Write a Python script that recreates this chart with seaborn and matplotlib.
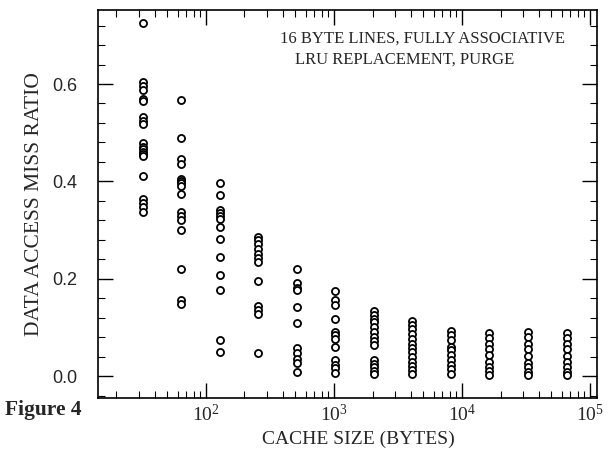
import numpy as np
import pandas as pd
import seaborn as sns
import matplotlib.pyplot as plt
from matplotlib.ticker import FixedLocator, LogLocator, NullFormatter

# cache sizes (bytes) and miss ratios
sizes = [32, 64, 128, 256, 512, 1024, 2048, 4096, 8192, 16384, 32768, 65536]
miss_32 = [0.726, 0.605, 0.596, 0.588, 0.570, 0.565, 0.532, 0.525, 0.518,
           0.478, 0.471, 0.466, 0.461, 0.456, 0.453, 0.412, 0.363, 0.356, 0.348, 0.338]
miss_64 = [0.567, 0.490, 0.446, 0.436, 0.406, 0.401, 0.396, 0.391, 0.375,
           0.338, 0.329, 0.320, 0.300, 0.221, 0.156, 0.149]
miss_128 = [0.397, 0.373, 0.342, 0.336, 0.329, 0.322, 0.306, 0.281, 0.245,
            0.208, 0.177, 0.075, 0.050]
miss_256 = [0.286, 0.279, 0.271, 0.262, 0.252, 0.242, 0.235, 0.196, 0.144,
            0.136, 0.127, 0.047]
miss_512 = [0.221, 0.192, 0.182, 0.177, 0.142, 0.110, 0.057, 0.047, 0.036,
            0.027, 0.009]
miss_1k = [0.175, 0.156, 0.146, 0.118, 0.091, 0.084, 0.077, 0.060, 0.033,
           0.023, 0.016, 0.007]
miss_2k = [0.134, 0.125, 0.118, 0.112, 0.101, 0.091, 0.081, 0.073, 0.064,
           0.033, 0.026, 0.019, 0.011, 0.004]
miss_4k = [0.114, 0.105, 0.096, 0.086, 0.077, 0.067, 0.059, 0.050, 0.040,
           0.029, 0.021, 0.012, 0.004]
miss_8k = [0.092, 0.084, 0.075, 0.060, 0.053, 0.043, 0.033, 0.023, 0.014, 0.005]
miss_16k = [0.089, 0.079, 0.066, 0.055, 0.043, 0.029, 0.019, 0.011, 0.003]
miss_32k = [0.091, 0.081, 0.067, 0.055, 0.041, 0.027, 0.018, 0.009, 0.003]
miss_64k = [0.089, 0.079, 0.066, 0.055, 0.041, 0.029, 0.018, 0.009, 0.003]

all_miss = [miss_32, miss_64, miss_128, miss_256, miss_512, miss_1k,
            miss_2k, miss_4k, miss_8k, miss_16k, miss_32k, miss_64k]
df = pd.DataFrame({
    "size": np.repeat(sizes, [len(m) for m in all_miss]),
    "miss": np.concatenate(all_miss),
})

sns.set_style("ticks")
plt.rcParams["font.family"] = ["Liberation Serif", "DejaVu Serif"]

fig = plt.figure(figsize=(6.08, 4.54), dpi=100)
ax = fig.add_axes([0.161, 0.123, 0.821, 0.855])

sns.scatterplot(data=df, x="size", y="miss", ax=ax, marker="o", s=26,
                facecolor="white", edgecolor="black", linewidth=1.3)

ax.set_xscale("log")
ax.set_xlim(10 ** 1.156, 10 ** 5.055)
ax.set_ylim(-0.045, 0.752)

ax.set_xticks([1e2, 1e3, 1e4, 1e5])
ax.xaxis.set_minor_locator(LogLocator(base=10, subs=np.arange(2, 10)))
ax.xaxis.set_minor_formatter(NullFormatter())
ax.set_yticks([0.0, 0.2, 0.4, 0.6])
ax.set_yticklabels(["0.0", "0.2", "0.4", "0.6"], family="Liberation Sans", fontsize=13)
ax.yaxis.set_minor_locator(FixedLocator(np.arange(-0.04, 0.76, 0.04)))

ax.tick_params(which="both", direction="in", top=True, right=True, color="black")
ax.tick_params(which="major", length=11, width=1)
ax.tick_params(which="minor", length=5, width=0.8)
ax.tick_params(axis="x", labelsize=14, pad=4)
ax.tick_params(axis="y", pad=15)
for sp in ax.spines.values():
    sp.set_linewidth(1.2)
    sp.set_color("black")

ax.set_xlabel("CACHE SIZE (BYTES)", fontsize=14, labelpad=3)
ax.xaxis.set_label_coords(0.521, -0.085, transform=ax.transAxes)
ax.set_ylabel("DATA ACCESS MISS RATIO", fontsize=15.5, labelpad=6)

ax.text(0.651, 0.925, "16 BYTE LINES, FULLY ASSOCIATIVE", transform=ax.transAxes,
        ha="center", va="center", fontsize=12)
ax.text(0.395, 0.873, "LRU REPLACEMENT, PURGE", transform=ax.transAxes,
        ha="left", va="center", fontsize=12)

fig.text(0.008, 0.097, "Figure 4", fontsize=15.5, fontweight="bold", ha="left", va="center")

fig.savefig("out.png", dpi=100)
